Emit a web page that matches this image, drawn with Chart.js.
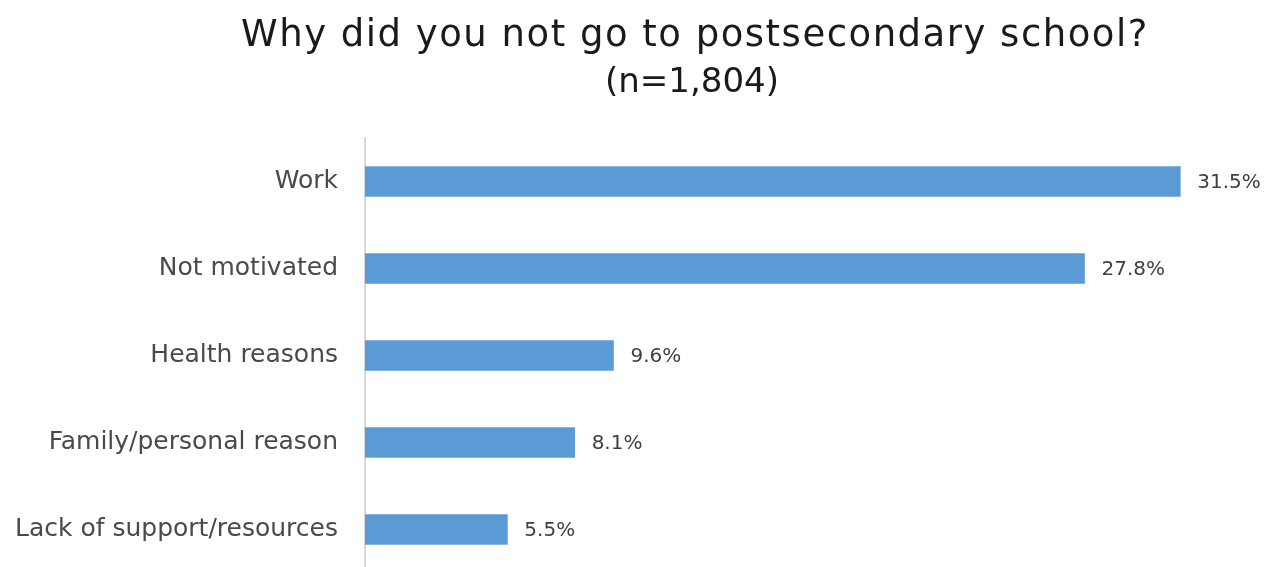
<!DOCTYPE html>
<html>
<head>
<meta charset="utf-8">
<script src="https://cdn.jsdelivr.net/npm/chart.js@4.4.0/dist/chart.umd.min.js"></script>
<style>
  html, body { margin: 0; padding: 0; background: #fff; overflow: hidden; }
</style>
</head>
<body>
<canvas id="chart" width="1267" height="607"></canvas>
<script>
const categories = ['Work', 'Not motivated', 'Health reasons', 'Family/personal reason', 'Lack of support/resources'];
const percentValues = [31.5, 27.8, 9.6, 8.1, 5.5];
const titleLines = ['Why did you not go to postsecondary school?', '(n=1,804)'];

const FONT = '"DejaVu Sans", sans-serif';

// two-line title and value labels next to each bar
const labelsPlugin = {
  id: 'labels',
  afterDraw(chart) {
    const ctx = chart.ctx;
    ctx.save();
    ctx.fillStyle = '#1a1a1a';
    ctx.textAlign = 'center';
    ctx.textBaseline = 'alphabetic';
    ctx.font = '37px ' + FONT;
    ctx.letterSpacing = '1.5px';
    ctx.fillText(titleLines[0], 695, 46);
    ctx.font = '34px ' + FONT;
    ctx.letterSpacing = '0px';
    ctx.fillText(titleLines[1], 692, 92);

    ctx.fillStyle = '#404040';
    ctx.font = '20px ' + FONT;
    ctx.textAlign = 'left';
    ctx.textBaseline = 'middle';
    const meta = chart.getDatasetMeta(0);
    meta.data.forEach((bar, i) => {
      ctx.fillText(percentValues[i].toFixed(1) + '%', bar.x + 17, bar.y + 1);
    });
    ctx.restore();
  }
};

const canvas = document.getElementById('chart');
const ctx = canvas.getContext('2d');

const chartInstance = new Chart(ctx, {
  type: 'bar',
  data: {
    labels: categories,
    datasets: [
      {
        label: 'Percent',
        data: percentValues,
        backgroundColor: '#5b9bd5',
        barThickness: 30,
      },
    ],
  },
  options: {
    indexAxis: 'y',
    responsive: false,
    animation: false,
    layout: { padding: { top: 138, bottom: 2, left: 0, right: 22 } },
    plugins: {
      legend: { display: false },
      tooltip: { enabled: false },
      title: { display: false },
    },
    scales: {
      x: {
        display: false,
        min: 0,
        max: 34,
      },
      y: {
        grid: { display: false },
        border: { display: true, color: '#d9d9d9', width: 2 },
        ticks: {
          color: '#4a4a4a',
          padding: 19,
          font: { family: FONT, size: 25 },
        },
        afterFit(scale) {
          scale.width = 365;
        },
      },
    },
  },
  plugins: [labelsPlugin],
});
</script>
</body>
</html>
